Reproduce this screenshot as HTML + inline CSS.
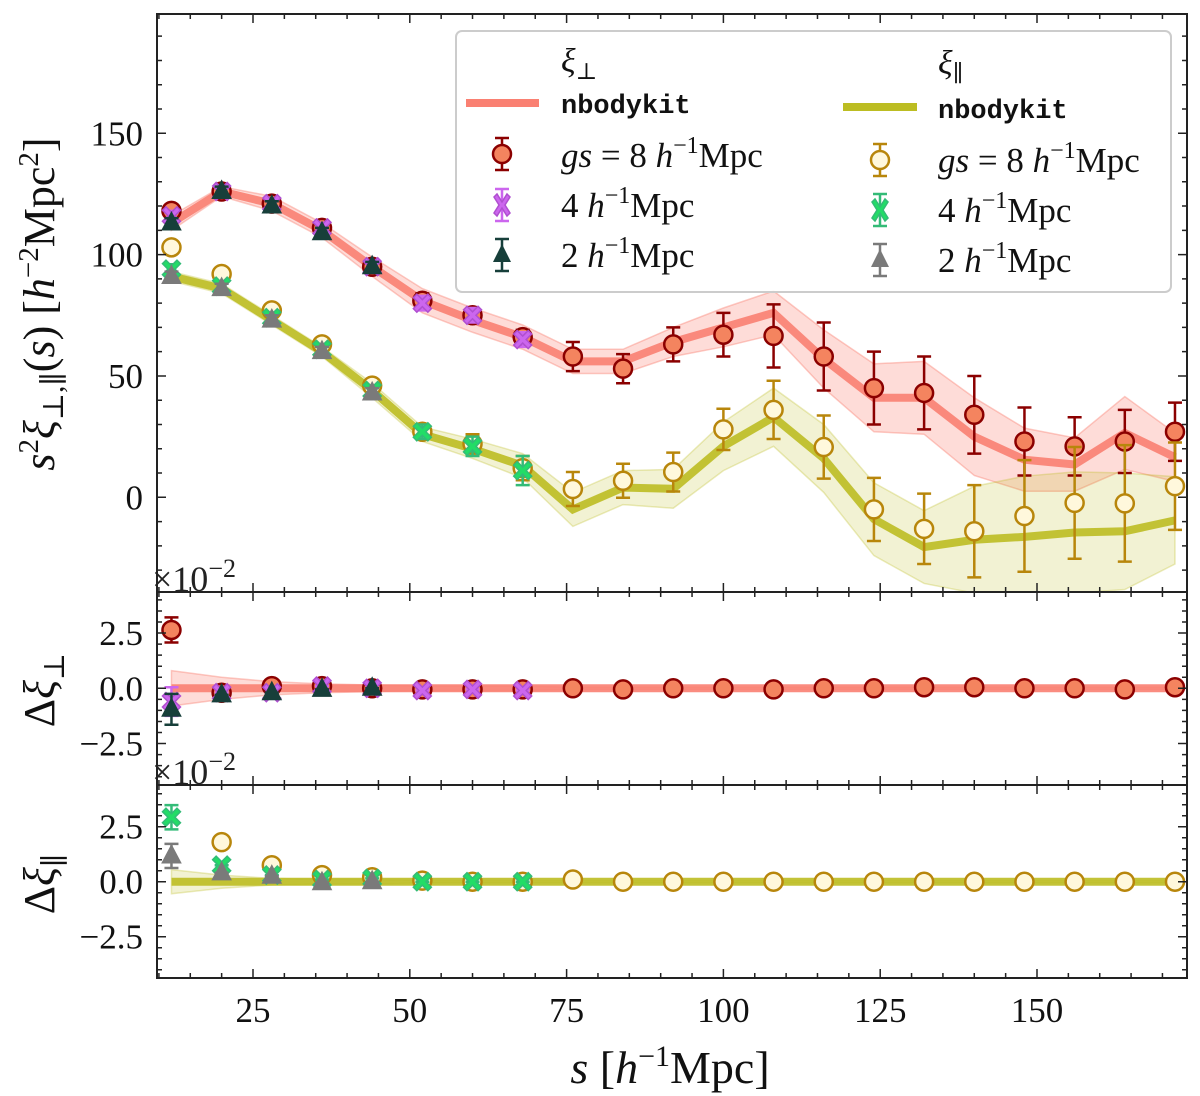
<!DOCTYPE html>
<html><head><meta charset="utf-8">
<style>
html,body{margin:0;padding:0;background:#fff;}
svg{display:block;font-family:"Liberation Serif","DejaVu Serif",serif;}
</style></head>
<body>
<svg id="fig" width="1200" height="1096" viewBox="0 0 1200 1096" xmlns="http://www.w3.org/2000/svg"></svg>
<script>
// ---------- data ----------
const sVals = [12,20,28,36,44,52,60,68,76,84,92,100,108,116,124,132,140,148,156,164,172];
const perpModel = [113,126,121,110,95,81,73,66,56,56,64,70,76,57,41,41,25,15.5,13.5,26.5,16.5];
const perpBand  = [3,2,3,3,4,5,5,5,5,5,6,8,9,12,14,15,16,13,11,15,10];
const perp8     = [118,126,121,111,95,81,75,66,58,53,63,67,66.5,58,45,43,34,23,21,23,27];
const perp8Err  = [2,2,2,2,2,3,3,3,6,6,7,9,13,14,15,15,16,14,12,13,12];
const perp4     = [116,126,121,111,95,80,75,65];
const perp4Err  = [2,2,2,2,2,3,3,3];
const perp2     = [113,126,120,109,95];
const perp2Err  = [2,2,2,2,2];
const parModel  = [91,86,73,60,44,26,20,13,-5,4,3.5,21,33,16,-9,-20.5,-17.5,-16.3,-14.5,-14,-9.5];
const parBand   = [2,2,2,2,3,3,4,5,7,7,8,10,12,14,15,15,22,25,25,24,18];
const par8      = [103,92,77,63,46,27,22,12,3.4,6.8,10.4,28,36,20.7,-5,-13,-14,-7.7,-2.3,-2.5,4.6];
const par8Err   = [2,2,2,2,2,3,4,5,7,7,8,8.5,12,13,13,14.5,19,23,23,24,18];
const par4      = [94,87,74,61,44,27,21,11];
const par4Err   = [2,2,2,2,2,3,4,6];
const par2      = [91,86,73,60,43];
const par2Err   = [2,2,2,2,2];
// residual panels (x1e-2)
const dPerp8    = [2.64,-0.2,0.1,0.1,0,-0.05,-0.05,-0.05,0,-0.05,0,0,-0.05,0,0,0.05,0.05,0,0,-0.05,0.05];
const dPerp8Err = [0.57,0.3,0.2,0.15,0.1,0.1,0.1,0.1,0.05,0.05,0.05,0.05,0.05,0.05,0.05,0.05,0.05,0.05,0.05,0.05,0.05];
const dPerp4    = [-0.6,-0.2,-0.2,0.1,0,-0.1,-0.05,-0.1];
const dPerp4Err = [0.65,0.3,0.25,0.15,0.1,0.1,0.1,0.1];
const dPerp2    = [-0.95,-0.3,-0.2,-0.05,0];
const dPerp2Err = [0.7,0.3,0.25,0.15,0.1];
const dPerpBand = [0.8,0.5,0.3,0.2,0.15,0.1,0.1,0.1,0.05,0.05,0.05,0.05,0.05,0.05,0.05,0.05,0.05,0.05,0.05,0.05,0.05];
const dPar8     = [null,1.8,0.75,0.3,0.2,0.05,0,0,0.1,0,0,0,0,0,0,0,0,0,0,0,0];
const dPar4     = [2.93,0.75,0.3,0.1,0.15,0,0,0];
const dPar4Err  = [0.55,0.15,0.1,0.1,0.05,0.05,0.05,0.05];
const dPar2     = [1.17,0.4,0.25,-0.05,0];
const dPar2Err  = [0.55,0.15,0.1,0.1,0.05];
const dParBand  = [0.55,0.3,0.15,0.1,0.1,0.05,0.05,0.05,0.05,0.05,0.05,0.05,0.05,0.05,0.05,0.05,0.05,0.05,0.05,0.05,0.05];
const xTicks = [25,50,75,100,125,150];
const mainTicks = [0,50,100,150];
const resTicks = [-2.5,0.0,2.5];

// ---------- scales ----------
const L=157,R=1187;
const X = v => 96.2 + 6.272*v;
const Ym = v => 497.3 - 2.427*v;
const Y2 = v => 688.3 - 22.1*v;
const Y3 = v => 881.7 - 22.0*v;
const panels = [
  {top:14,bot:592,Y:Ym,ymin:-39,ymax:199,maj:mainTicks,minStep:10,name:'main'},
  {top:592,bot:785,Y:Y2,ymin:-4.37,ymax:4.34,maj:resTicks,minStep:0.5,name:'perp-residual'},
  {top:785,bot:978,Y:Y3,ymin:-4.38,ymax:4.39,maj:resTicks,minStep:0.5,name:'par-residual'}
];
const NS='http://www.w3.org/2000/svg';
const svg=document.getElementById('fig');
function mk(tag,attrs,parent){const e=document.createElementNS(NS,tag);for(const k in attrs)e.setAttribute(k,attrs[k]);(parent||svg).appendChild(e);return e;}

const defs=mk('defs',{});
panels.forEach((p,i)=>{const c=mk('clipPath',{id:'clip'+i},defs);mk('rect',{x:L,y:p.top,width:R-L,height:p.bot-p.top},c);});

const C={
  redLine:'#fa8072', redFill:'#f4845f', redEdge:'#8b0000',
  yelLine:'#bcbd22', yelFill:'#fff8dc', yelEdge:'#b8860b',
  purp:'#cc66ee', purpEdge:'#b04fd0',
  dark:'#173f3a', green:'#22dd66', greenEdge:'#33bb77', gray:'#7a7a7a'
};

function band(g,Y,model,w,color,op){
  let up=sVals.map((s,i)=>X(s)+','+Y(model[i]+w[i]));
  let dn=sVals.map((s,i)=>X(s)+','+Y(model[i]-w[i])).reverse();
  const e=mk('polygon',{points:up.concat(dn).join(' '),fill:color,'fill-opacity':op,stroke:color,'stroke-opacity':op*1.5,'stroke-width':1.5},g);
  
  
}
function line(g,Y,vals,color){
  const e=mk('polyline',{points:sVals.map((s,i)=>X(s)+','+Y(vals[i])).join(' '),fill:'none',stroke:color,'stroke-width':8,'stroke-opacity':0.9,'stroke-linejoin':'miter'},g);
  
  
}
function marker(g,type,cx,cy,fill,edge){
  let e;
  if(type==='o'){e=mk('circle',{cx:cx,cy:cy,r:9,fill:fill,stroke:edge,'stroke-width':2.5},g);}
  else if(type==='^'){e=mk('polygon',{points:`${cx},${cy-11} ${cx+9.5},${cy+7} ${cx-9.5},${cy+7}`,fill:fill,stroke:edge,'stroke-width':1},g);}
  else {const a=3.5,b=9;
    const p=[[-b,-b+a],[-b+a,-b],[0,-a],[b-a,-b],[b,-b+a],[a,0],[b,b-a],[b-a,b],[0,a],[-b+a,b],[-b,b-a],[-a,0]];
    e=mk('polygon',{points:p.map(q=>(cx+q[0])+','+(cy+q[1])).join(' '),fill:fill,stroke:edge,'stroke-width':1.5},g);}
  return e;
}
function errSeries(g,Y,vals,errs,type,fill,edge,ecol,name){
  vals.forEach((v,i)=>{
    if(v===null)return;
    const cx=X(sVals[i]),cy=Y(v);
    if(errs){const e=errs[i];
      const y1=Y(v+e),y2=Y(v-e);
      const eb=mk('path',{d:`M${cx},${y1}V${y2}M${cx-7},${y1}H${cx+7}M${cx-7},${y2}H${cx+7}`,stroke:ecol,'stroke-width':2.5,fill:'none'},g);
      
      
    }
    const m=marker(g,type,cx,cy,fill,edge);
    
    
  });
}

const gMain=mk('g',{'clip-path':'url(#clip0)'});


band(gMain,Ym,perpModel,perpBand,C.redLine,0.28);
band(gMain,Ym,parModel,parBand,C.yelLine,0.2);
line(gMain,Ym,perpModel,C.redLine);
line(gMain,Ym,parModel,C.yelLine);
errSeries(gMain,Ym,perp8,perp8Err,'o',C.redFill,C.redEdge,C.redEdge,'perp-gs8');
errSeries(gMain,Ym,perp4,perp4Err,'x',C.purp,C.purpEdge,C.purp,'perp-gs4');
errSeries(gMain,Ym,perp2,perp2Err,'^',C.dark,C.dark,C.dark,'perp-gs2');
errSeries(gMain,Ym,par8,par8Err,'o',C.yelFill,C.yelEdge,C.yelEdge,'par-gs8');
errSeries(gMain,Ym,par4,par4Err,'x',C.green,C.greenEdge,C.greenEdge,'par-gs4');
errSeries(gMain,Ym,par2,par2Err,'^',C.gray,C.gray,C.gray,'par-gs2');

const zeros=sVals.map(()=>0);
const g2=mk('g',{'clip-path':'url(#clip1)'});


band(g2,Y2,zeros,dPerpBand,C.redLine,0.28);
line(g2,Y2,zeros,C.redLine);
errSeries(g2,Y2,dPerp8,dPerp8Err.map((e,i)=>i===0?e:0),'o',C.redFill,C.redEdge,C.redEdge,'dperp-gs8');
errSeries(g2,Y2,dPerp4,dPerp4Err.map((e,i)=>i===0?e:0),'x',C.purp,C.purpEdge,C.purp,'dperp-gs4');
errSeries(g2,Y2,dPerp2,dPerp2Err.map((e,i)=>i===0?e:0),'^',C.dark,C.dark,C.dark,'dperp-gs2');

const g3=mk('g',{'clip-path':'url(#clip2)'});


band(g3,Y3,zeros,dParBand,C.yelLine,0.2);
line(g3,Y3,zeros,C.yelLine);
errSeries(g3,Y3,dPar8,null,'o',C.yelFill,C.yelEdge,C.yelEdge,'dpar-gs8');
errSeries(g3,Y3,dPar4,dPar4Err.map((e,i)=>i===0?e:0),'x',C.green,C.greenEdge,C.greenEdge,'dpar-gs4');
errSeries(g3,Y3,dPar2,dPar2Err.map((e,i)=>i===0?e:0),'^',C.gray,C.gray,C.gray,'dpar-gs2');

panels.forEach((p,pi)=>{
  const ax=mk('g',{});
  
  
  let d='';
  for(let v=10;v<=174;v+=5){const x=X(v);const major=v%25===0;const len=major?9:5;
    d+=`M${x},${p.bot}v${-len}M${x},${p.top}v${len}`;}
  const st=p.minStep;
  for(let k=Math.ceil(p.ymin/st);k*st<=p.ymax;k++){const v=k*st;const y=p.Y(v);
    const major=p.maj.some(m=>Math.abs(m-v)<1e-6);const len=major?9:5;
    d+=`M${L},${y}h${len}M${R},${y}h${-len}`;}
  mk('path',{d:d,stroke:'#222','stroke-width':1.5,fill:'none'},ax);
  mk('rect',{x:L,y:p.top,width:R-L,height:p.bot-p.top,fill:'none',stroke:'#222','stroke-width':2},ax);
  p.maj.forEach(v=>{
    const t=mk('text',{x:L-14,y:p.Y(v)+12,'text-anchor':'end','font-size':35,fill:'#111'},ax);
    t.textContent=pi===0?String(v):(v<0?'\u22122.5':v.toFixed(1));
    
    
  });
});
xTicks.forEach(v=>{
  const t=mk('text',{x:X(v),y:1022,'text-anchor':'middle','font-size':35,fill:'#111'});
  t.textContent=String(v);
  
  
});
</script>
<script>
const S=document.getElementById('fig');
function add(html){S.insertAdjacentHTML('beforeend',html);}
add(`<text x="152" y="591" font-size="36" fill="#222">×10<tspan dy="-14" font-size="26">−2</tspan></text>`);
add(`<text x="152" y="784" font-size="36" fill="#222">×10<tspan dy="-14" font-size="26">−2</tspan></text>`);
add(`<text x="670" y="1083" text-anchor="middle" font-size="46" fill="#111"><tspan font-style="italic">s</tspan> [<tspan font-style="italic">h</tspan><tspan dy="-17" font-size="30">−1</tspan><tspan dy="17">Mpc]</tspan></text>`);
add(`<text transform="translate(54,304) rotate(-90)" text-anchor="middle" font-size="44" fill="#111"><tspan font-style="italic">s</tspan><tspan dy="-16" font-size="29">2</tspan><tspan dy="16" font-style="italic">ξ</tspan><tspan dy="9" font-size="29">⊥,∥</tspan><tspan dy="-9">(</tspan><tspan font-style="italic">s</tspan>) [<tspan font-style="italic">h</tspan><tspan dy="-16" font-size="29">−2</tspan><tspan dy="16">Mpc</tspan><tspan dy="-16" font-size="29">2</tspan><tspan dy="16">]</tspan></text>`);
add(`<text transform="translate(54,690) rotate(-90)" text-anchor="middle" font-size="44" fill="#111">Δ<tspan font-style="italic">ξ</tspan><tspan dy="10" font-size="29">⊥</tspan></text>`);
add(`<text transform="translate(54,884) rotate(-90)" text-anchor="middle" font-size="44" fill="#111">Δ<tspan font-style="italic">ξ</tspan><tspan dy="10" font-size="29">∥</tspan></text>`);
add(`<g>
<rect x="456" y="31" width="715" height="261" rx="6" fill="#fff" fill-opacity="0.85" stroke="#ccc" stroke-width="2"/>
<text x="561" y="72" font-size="34" font-style="italic" fill="#111">ξ<tspan dy="7" font-size="23" font-style="normal">⊥</tspan></text>
<line x1="466" y1="103" x2="539" y2="103" stroke="#fa8072" stroke-width="8"/>
<text x="561" y="113" font-family="Liberation Mono, monospace" font-weight="bold" font-size="27" fill="#111">nbodykit</text>
<path d="M502,138V170M495,138H509M495,170H509" stroke="#8b0000" stroke-width="2.5"/>
<circle cx="502" cy="154" r="9" fill="#f4845f" stroke="#8b0000" stroke-width="2.5"/>
<text x="561" y="167" font-size="35" fill="#111"><tspan font-style="italic">gs</tspan> = 8 <tspan font-style="italic">h</tspan><tspan dy="-14" font-size="24">−1</tspan><tspan dy="14">Mpc</tspan></text>
<path d="M502,189V221M495,189H509M495,221H509" stroke="#cc66ee" stroke-width="2.5"/>
<polygon points="494,197 497,194 502,202 507,194 510,197 505,205 510,213 507,216 502,208 497,216 494,213 499,205" fill="#cc66ee" stroke="#b04fd0" stroke-width="1.5"/>
<text x="561" y="217" font-size="35" fill="#111">4 <tspan font-style="italic">h</tspan><tspan dy="-14" font-size="24">−1</tspan><tspan dy="14">Mpc</tspan></text>
<path d="M502,239V271M495,239H509M495,271H509" stroke="#173f3a" stroke-width="2.5"/>
<polygon points="502,244 511,262 493,262" fill="#173f3a"/>
<text x="561" y="267" font-size="35" fill="#111">2 <tspan font-style="italic">h</tspan><tspan dy="-14" font-size="24">−1</tspan><tspan dy="14">Mpc</tspan></text>
<text x="938" y="74" font-size="34" font-style="italic" fill="#111">ξ<tspan dy="7" font-size="23" font-style="normal">∥</tspan></text>
<line x1="843" y1="107" x2="917" y2="107" stroke="#bcbd22" stroke-width="8"/>
<text x="938" y="118" font-family="Liberation Mono, monospace" font-weight="bold" font-size="27" fill="#111">nbodykit</text>
<path d="M880,144V176M873,144H887M873,176H887" stroke="#b8860b" stroke-width="2.5"/>
<circle cx="880" cy="160" r="9" fill="#fff8dc" stroke="#b8860b" stroke-width="2.5"/>
<text x="938" y="172" font-size="35" fill="#111"><tspan font-style="italic">gs</tspan> = 8 <tspan font-style="italic">h</tspan><tspan dy="-14" font-size="24">−1</tspan><tspan dy="14">Mpc</tspan></text>
<path d="M880,194V226M873,194H887M873,226H887" stroke="#33bb77" stroke-width="2.5"/>
<polygon points="872,202 875,199 880,207 885,199 888,202 883,210 888,218 885,221 880,213 875,221 872,218 877,210" fill="#22dd66" stroke="#33bb77" stroke-width="1.5"/>
<text x="938" y="222" font-size="35" fill="#111">4 <tspan font-style="italic">h</tspan><tspan dy="-14" font-size="24">−1</tspan><tspan dy="14">Mpc</tspan></text>
<path d="M880,244V276M873,244H887M873,276H887" stroke="#7a7a7a" stroke-width="2.5"/>
<polygon points="880,249 889,267 871,267" fill="#7a7a7a"/>
<text x="938" y="272" font-size="35" fill="#111">2 <tspan font-style="italic">h</tspan><tspan dy="-14" font-size="24">−1</tspan><tspan dy="14">Mpc</tspan></text>
</g>`);
</script>
</body></html>
